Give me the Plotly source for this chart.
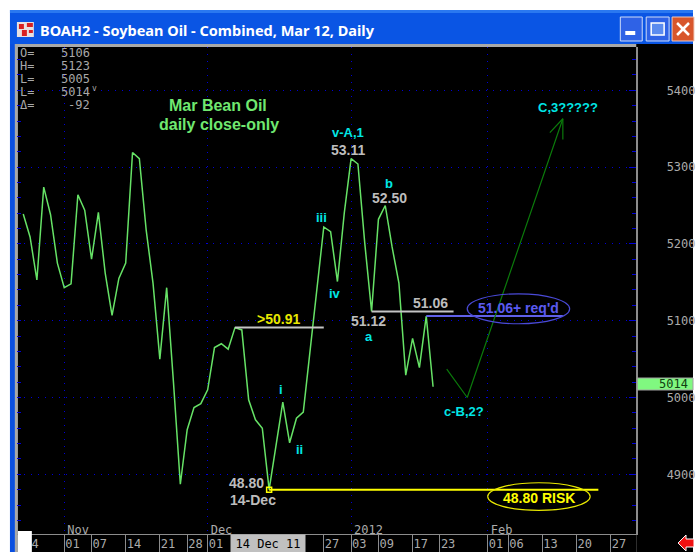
import plotly.graph_objects as go

W, H = 696, 552
# plot frame in pixels
L, R, T, B = 17, 639, 47, 534

# --- data -------------------------------------------------------------
day_index = list(range(-6, 55))
close = [5239, 5209, 5153, 5274, 5238, 5175, 5143, 5148, 5264, 5244, 5180, 5241,
         5162, 5107, 5155, 5175, 5319, 5311, 5218, 5149, 5050, 5143, 5019, 4887,
         4958, 4987, 4992, 5010, 5065, 5070, 5063, 5091, 5088, 4997, 4971, 4960,
         4880, 4938, 4994, 4941, 4973, 4981, 5062, 5142, 5222, 5216, 5151, 5240,
         5311, 5304, 5201, 5112, 5232, 5250, 5196, 5149, 5029, 5077, 5039, 5106, 5014]

day_ticks = [-6, 0, 4, 9, 14, 18, 21, 38, 42, 46, 51, 55, 62, 65, 70, 75, 80]
day_labels = ["24", "01", "07", "14", "21", "28", "01", "27", "03", "09", "17", "23",
              "01", "06", "13", "20", "27"]
month_ticks = [0, 21, 42, 62]
month_labels = ["Nov", "Dec", "2012", "Feb"]
price_ticks = [4900, 5000, 5100, 5200, 5300, 5400]

forecast_x = [56, 59, 73]
forecast_y = [5037, 5000, 5363]
head_x = [71.1, 73, 73]
head_y = [5345, 5363, 5336]

line_5091_x, line_5091_y = [25, 38], [5091, 5091]
line_5112_x, line_5112_y = [45, 57], [5112, 5112]
line_5106_x, line_5106_y = [53, 73], [5106, 5106]
line_4880_x, line_4880_y = [30, 78.2], [4880, 4880]
low_x, low_y = [30], [4880]

blue_ell_x, blue_ell_y = [59, 74], [5096, 5135]
yel_ell_x, yel_ell_y = [62, 77], [4853, 4889]

# --- axis ranges derived from frame -----------------------------------
PXD = 6.86          # px per trading day
PXP = 0.768         # px per price unit
x_range = [(L - 64.5) / PXD, (R - 64.5) / PXD]
y_range = [5400 - (B - 90.3) / PXP, 5400 - (T - 90.3) / PXP]

GREY = "#BDBDBD"
TICKGREY = "#ABABAB"
CYAN = "#00E6E6"
BLUE = "#0000D8"
MONO = "DejaVu Sans Mono"
SANS = "Liberation Sans"


def fx(p):
    return p / W


def fy(p):
    return 1 - p / H


def rect(x0, y0, x1, y1, fill, line=None, lw=0, layer="below"):
    return dict(type="rect", xref="paper", yref="paper", x0=fx(x0), x1=fx(x1),
                y0=fy(y0), y1=fy(y1), fillcolor=fill, layer=layer,
                line=dict(color=line or fill, width=lw))


fig = go.Figure()
fig.add_trace(go.Scatter(x=day_index, y=close, mode="lines",
                         line=dict(color="#66E266", width=1.5), hoverinfo="skip"))
# invisible helper bound to the secondary axes so they render
fig.add_trace(go.Scatter(x=[day_index[0]], y=[close[0]], xaxis="x2", yaxis="y2", mode="lines",
                         line=dict(width=0), hoverinfo="skip"))


def seg(x, y, color, width):
    fig.add_trace(go.Scatter(x=x, y=y, mode="lines", line=dict(color=color, width=width),
                             hoverinfo="skip"))


seg(line_5091_x, line_5091_y, "#C4C4C4", 2)
seg(line_5112_x, line_5112_y, "#C4C4C4", 2)
seg(line_5106_x, line_5106_y, "#6060E8", 2)
seg(line_4880_x, line_4880_y, "#FFFF00", 2)
seg(forecast_x, forecast_y, "#0B7A0B", 1.2)
seg(head_x, head_y, "#0B7A0B", 1.2)
fig.add_trace(go.Scatter(x=low_x, y=low_y, mode="markers", hoverinfo="skip",
                         marker=dict(symbol="square-open", color="#FFFF00", size=5,
                                     line=dict(width=1.5, color="#FFFF00"))))

shapes = [
    rect(0, 0, W, 10, "#FFFFFF"),
    rect(0, 10, 10, H, "#FFFFFF"),
    rect(10, 10, W, 44, "#0A55E4"),
    rect(10, 10, W, 13, "#2A78F0"),
    rect(10, 44, 15, H, "#0A4FE0"),
    rect(15, 44, W, 47, "#A8A8A8"),
    rect(15, 44, 18, H, "#A8A8A8"),
    rect(R, 44, W, H, "#000000"),
    rect(18, B, R, H, "#000000"),
    # window controls
    rect(623, 17, 645, 41, "#2F62E6", "#CFDCF8", 1),
    rect(628, 31, 638, 35, "#FFFFFF"),
    rect(649, 17, 672, 41, "#2F62E6", "#CFDCF8", 1),
    rect(654, 23, 667, 35, "#5B8BEF", "#FFFFFF", 1.5),
    rect(675, 17, 697, 41, "#D8562C", "#F0C8B8", 1),
    dict(type="line", xref="paper", yref="paper", x0=fx(680), x1=fx(692), y0=fy(23), y1=fy(35),
         line=dict(color="#FFFFFF", width=2.5), layer="below"),
    dict(type="line", xref="paper", yref="paper", x0=fx(692), x1=fx(680), y0=fy(23), y1=fy(35),
         line=dict(color="#FFFFFF", width=2.5), layer="below"),
    # title icon
    rect(17, 22, 34, 37, "#E8E0E0"),
    rect(19, 24, 24, 29, "#D82020"),
    rect(27, 23, 33, 27, "#D82020"),
    rect(22, 30, 27, 36, "#D82020"),
    rect(29, 30, 33, 33, "#D82020"),
    # white scroll box, last price box
    rect(18, 531, 32, H, "#FFFFFF", layer="above"),
    rect(640, 378, W, 390, "#80F880", "#A0A0A0", 1, layer="above"),
    # ellipses
    dict(type="circle", xref="x", yref="y", x0=blue_ell_x[0], x1=blue_ell_x[1],
         y0=blue_ell_y[0], y1=blue_ell_y[1], line=dict(color="#4A4AD8", width=1.2)),
    dict(type="circle", xref="x", yref="y", x0=yel_ell_x[0], x1=yel_ell_x[1],
         y0=yel_ell_y[0], y1=yel_ell_y[1], line=dict(color="#E8E800", width=1.2)),
    # red scroll arrow
    dict(type="path", xref="paper", yref="paper", fillcolor="#F01010", layer="above",
         line=dict(color="#FFFFFF", width=1),
         path="M %f %f L %f %f L %f %f L %f %f L %f %f L %f %f L %f %f Z" % (
             fx(681), fy(543), fx(689), fy(535), fx(689), fy(539), fx(697), fy(539),
             fx(697), fy(547), fx(689), fy(547), fx(689), fy(551))),
]

anns = []


def txt(text, x, y, color, size=12, bold=False, font=SANS, anchor="center", bg=None, **kw):
    d = dict(text=("<b>%s</b>" % text) if bold else text, xref="paper", yref="paper",
             x=fx(x), y=fy(y), xanchor=anchor, yanchor="middle", showarrow=False,
             font=dict(color=color, size=size, family=font), borderpad=0)
    if bg:
        d["bgcolor"] = bg
    d.update(kw)
    anns.append(d)


txt("BOAH2 - Soybean Oil - Combined, Mar 12, Daily", 39, 30, "#FFFFFF", 14.5, True, "Noto Sans", "left")

for lab, val, yy in [("O=", "5106", 53), ("H=", "5123", 66), ("L=", "5005", 79),
                     ("L=", "5014", 92), ("\u0394=", "-92", 105)]:
    txt(lab, 19, yy, "#A8A8A8", 12, False, MONO, "left", height=12)
    txt(val, 91, yy, "#A8A8A8", 12, False, MONO, "right", height=12)
txt("v", 95, 89, "#A8A8A8", 8, False, MONO)

txt("Mar Bean Oil", 219, 105, "#70E870", 16, True)
txt("daily close-only", 220, 124, "#70E870", 16, True)
txt("v-A,1", 350, 133, CYAN, 13, True)
txt("53.11", 350, 150, GREY, 14, True)
txt("b", 391, 184, CYAN, 13, True)
txt("52.50", 391, 198, GREY, 14, True)
txt("iii", 323, 217, CYAN, 13, True)
txt("iv", 336, 293, CYAN, 13, True)
txt("i", 282, 389, CYAN, 13, True)
txt("ii", 301, 449, CYAN, 13, True)
txt("a", 371, 336, CYAN, 13, True)
txt("51.12", 370, 321, GREY, 14, True)
txt("51.06", 432, 303, GREY, 14, True)
txt(">50.91", 280, 319, "#E8E800", 14, True)
txt("c-B,2?", 466, 411, CYAN, 13, True)
txt("C,3?????", 570, 108, CYAN, 13, True)
txt("51.06+ req'd", 521, 308, "#5A5AF0", 14, True)
txt("48.80 RISK", 541, 498, "#FFFF00", 14, True)
txt("48.80", 248, 483, GREY, 14, True)
txt("14-Dec", 254, 500, GREY, 14, True)
txt("5014", 676, 384, "#104010", 12, False, MONO)
txt("14 Dec 11", 269, 544, "#000000", 12, False, MONO, bg="#C0C0C0", width=74, height=18)

fig.update_layout(
    width=W, height=H, autosize=False, showlegend=False,
    margin=dict(l=0, r=0, t=0, b=0, pad=0),
    paper_bgcolor="#FFFFFF", plot_bgcolor="#000000",
    shapes=shapes, annotations=anns,
    xaxis=dict(domain=[fx(L), fx(R)], range=x_range, tickmode="array",
               tickvals=day_ticks, ticktext=day_labels, showgrid=False, zeroline=False,
               ticks="outside", ticklen=17, tickcolor="#8C8C8C", tickwidth=1, tickangle=0,
               ticklabelposition="outside right", ticklabelstandoff=-1,
               tickfont=dict(family=MONO, size=12, color=TICKGREY),
               showline=True, linecolor="#8C8C8C", linewidth=1, anchor="y"),
    xaxis2=dict(domain=[fx(L), fx(R)], range=x_range, overlaying="x", anchor="y", side="bottom",
                tickmode="array", tickvals=month_ticks, ticktext=month_labels, tickangle=0,
                showgrid=True, gridcolor=BLUE, griddash="1px 6px", gridwidth=1, zeroline=False,
                ticks="", ticklabelposition="inside right", ticklabelstandoff=-8, ticklabelshift=3,
                tickfont=dict(family=MONO, size=12, color=TICKGREY)),
    yaxis=dict(domain=[fy(B), fy(T)], range=y_range, side="right", anchor="x",
               tickmode="array", tickvals=price_ticks, showgrid=True, gridcolor=BLUE,
               griddash="1px 6px", gridwidth=1, zeroline=False,
               ticks="inside", ticklen=7, tickcolor=BLUE, tickwidth=1,
               ticklabelstandoff=26, tickformat="d",
               minor=dict(dtick=20, ticks="inside", ticklen=4, tickcolor=BLUE),
               tickfont=dict(family=MONO, size=12, color=TICKGREY),
               showline=True, linecolor="#8C8C8C", linewidth=2),
    yaxis2=dict(domain=[fy(B), fy(T)], range=y_range, side="left", overlaying="y", anchor="x",
                tickmode="linear", tick0=4900, dtick=20, showgrid=False, zeroline=False,
                ticks="inside", ticklen=4, tickcolor=BLUE, showticklabels=False),
)

fig.write_html("out.html", config=dict(displayModeBar=False, responsive=False),
               post_script="document.body.style.margin='0';document.documentElement.style.overflow='hidden';")
